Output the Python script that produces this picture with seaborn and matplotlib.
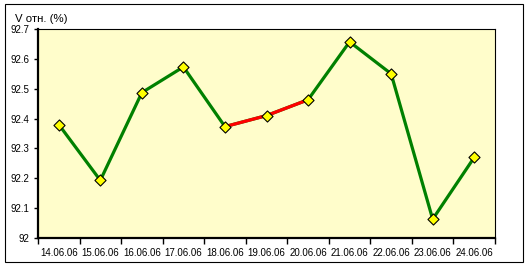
import matplotlib
matplotlib.use("Agg")
import matplotlib.pyplot as plt
import seaborn as sns
import pandas as pd
import numpy as np
from matplotlib.patches import Rectangle

dates = ["14.06.06", "15.06.06", "16.06.06", "17.06.06", "18.06.06", "19.06.06",
         "20.06.06", "21.06.06", "22.06.06", "23.06.06", "24.06.06"]
values = [92.38, 92.193, 92.487, 92.573, 92.373, 92.41, 92.463, 92.657, 92.55, 92.063, 92.27]
red_dates = ["18.06.06", "19.06.06", "20.06.06"]
y_ticks = [92, 92.1, 92.2, 92.3, 92.4, 92.5, 92.6, 92.7]
y_labels = ["92", "92.1", "92.2", "92.3", "92.4", "92.5", "92.6", "92.7"]
title = "V отн. (%)"

sns.set_style("white")
plt.rcParams["font.family"] = ["Liberation Sans", "DejaVu Sans"]
plt.rcParams["text.color"] = "black"
plt.rcParams["xtick.color"] = "black"
plt.rcParams["ytick.color"] = "black"

df = pd.DataFrame({"date": dates, "value": values})
df["pos"] = np.arange(len(df))
red = df[df["date"].isin(red_dates)]

W, H = 529, 269
fig = plt.figure(figsize=(W / 100, H / 100), dpi=100)
fig.patch.set_facecolor("white")
ax = fig.add_axes([38 / W, (H - 238) / H, (495 - 38) / W, (238 - 29) / H])
ax.set_facecolor("#FFFDCB")

sns.lineplot(data=df, x="pos", y="value", ax=ax, color="#008000", linewidth=2.3,
             sort=False, zorder=2)
sns.lineplot(data=red, x="pos", y="value", ax=ax, color="#FF0000", linewidth=2.3,
             sort=False, zorder=3)
sns.scatterplot(data=df, x="pos", y="value", ax=ax, marker="D", s=32,
                color="#FFFF00", edgecolor="black", linewidth=0.8, zorder=4)

ax.set_xlim(-0.5, len(dates) - 0.5)
ax.set_ylim(92, 92.7)
ax.set_xlabel("")
ax.set_ylabel("")

ax.set_xticks(np.arange(-0.5, len(dates), 1.0))
ax.set_xticklabels([])
ax.set_xticks(np.arange(len(dates)), minor=True)
ax.set_xticklabels(dates, minor=True, fontsize=7)
ax.tick_params(axis="x", which="major", direction="out", length=4, width=1,
               color="black", bottom=True)
ax.tick_params(axis="x", which="minor", length=0, pad=7, bottom=True,
               labelcolor="black")

ax.set_yticks(y_ticks)
ax.set_yticklabels(y_labels, fontsize=7)
ax.tick_params(axis="y", which="major", direction="out", length=3, width=1,
               color="black", left=True, pad=3, labelcolor="black")

for side in ["left", "bottom"]:
    ax.spines[side].set_linewidth(1.6)
    ax.spines[side].set_color("black")
for side in ["top", "right"]:
    ax.spines[side].set_linewidth(0.8)
    ax.spines[side].set_color("black")
    ax.spines[side].set_visible(True)

fig.text(15 / W, (H - 22) / H, title, fontsize=8.2, ha="left", va="baseline",
         color="black")

fig.patches.append(Rectangle((4.5 / W, (H - 261.5) / H), 518.5 / W, 258 / H,
                             transform=fig.transFigure, fill=False,
                             edgecolor="black", linewidth=0.8, zorder=0))

fig.savefig("out.png", dpi=100)
